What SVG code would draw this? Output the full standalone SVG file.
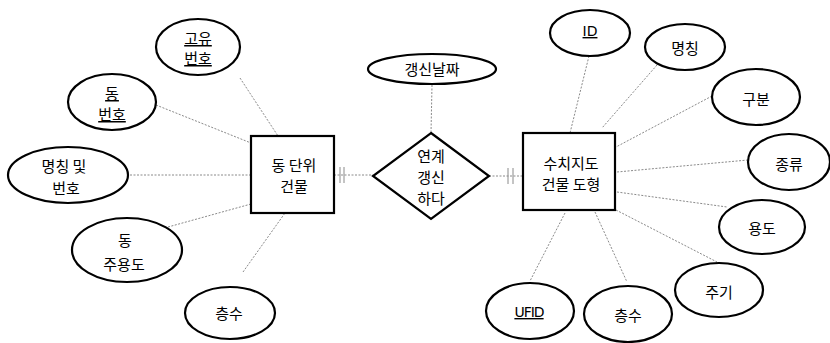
<svg xmlns="http://www.w3.org/2000/svg" width="830" height="343" viewBox="0 0 830 343">
<style>
.sh{fill:#fff;stroke:#000;stroke-width:2.2}
.ln{stroke:#8a8a8a;stroke-width:1;stroke-dasharray:2 1.5;fill:none}
.tk{stroke:#8a8a8a;stroke-width:1;fill:none}
text{font-family:"Noto Sans CJK KR","Noto Sans",sans-serif;font-size:15px;fill:#000;text-anchor:middle}
.e{font-size:15px}
.u{text-decoration:underline}
</style>
<rect width="830" height="343" fill="#fff"/>
<g id="connectors">
<line class="ln" x1="240" y1="78" x2="278" y2="136"/>
<line class="ln" x1="156" y1="105" x2="251" y2="143"/>
<line class="ln" x1="130" y1="175" x2="251" y2="175"/>
<line class="ln" x1="168" y1="227" x2="251" y2="204"/>
<line class="ln" x1="243" y1="272" x2="285" y2="213"/>
<line class="ln" x1="334" y1="175" x2="373" y2="175"/>
<line class="tk" x1="340" y1="167" x2="340" y2="183"/>
<line class="tk" x1="344" y1="167" x2="344" y2="183"/>
<line class="ln" x1="432" y1="85" x2="431" y2="133"/>
<line class="ln" x1="489" y1="176" x2="523" y2="176"/>
<line class="tk" x1="508" y1="168" x2="508" y2="184"/>
<line class="tk" x1="513" y1="168" x2="513" y2="184"/>
<line class="ln" x1="589" y1="56" x2="570" y2="133"/>
<line class="ln" x1="657" y1="65" x2="602" y2="128"/>
<line class="ln" x1="712" y1="96" x2="616" y2="147"/>
<line class="ln" x1="748" y1="160" x2="617" y2="172"/>
<line class="ln" x1="617" y1="192" x2="727" y2="207"/>
<line class="ln" x1="616" y1="210" x2="717" y2="262"/>
<line class="ln" x1="595" y1="212" x2="627" y2="282"/>
<line class="ln" x1="565" y1="213" x2="530" y2="281"/>
</g>
<g id="e1">
<rect class="sh" x="251" y="136" width="83" height="77"/>
<text class="e" x="294" y="171">동 단위</text>
<text class="e" x="294" y="192">건물</text>
</g>
<g id="rel">
<polygon class="sh" points="431,133 489,176 431,219 373,176"/>
<text class="e" x="431" y="162">연계</text>
<text class="e" x="431" y="183">갱신</text>
<text class="e" x="431" y="204">하다</text>
</g>
<g id="e2">
<rect class="sh" x="523" y="133" width="92" height="77"/>
<text class="e" x="571" y="169">수치지도</text>
<text class="e" x="571" y="190">건물 도형</text>
</g>
<g id="a_date">
<ellipse class="sh" cx="432" cy="69" rx="64" ry="15"/>
<text x="432" y="75">갱신날짜</text>
</g>
<g id="a1">
<ellipse class="sh" cx="198" cy="47" rx="42" ry="28"/>
<text class="u" x="198" y="44">고유</text>
<text class="u" x="198" y="64">번호</text>
</g>
<g id="a2">
<ellipse class="sh" cx="112" cy="102" rx="44" ry="28"/>
<text class="u" x="112" y="99">동</text>
<text class="u" x="112" y="120">번호</text>
</g>
<g id="a3">
<ellipse class="sh" cx="68" cy="175" rx="60" ry="28"/>
<text x="64" y="172">명칭 및</text>
<text x="66" y="194">번호</text>
</g>
<g id="a4">
<ellipse class="sh" cx="127" cy="250" rx="55" ry="32"/>
<text x="125" y="246">동</text>
<text x="124" y="270">주용도</text>
</g>
<g id="a5">
<ellipse class="sh" cx="230" cy="313" rx="45" ry="26"/>
<text x="229" y="319">층수</text>
</g>
<g id="b1">
<ellipse class="sh" cx="590" cy="33" rx="40" ry="23"/>
<text class="u" x="590" y="36" style="font-family:'DejaVu Sans',sans-serif;font-size:14px">ID</text>
</g>
<g id="b2">
<ellipse class="sh" cx="685" cy="47" rx="40" ry="23"/>
<text x="685" y="54">명칭</text>
</g>
<g id="b3">
<ellipse class="sh" cx="756" cy="97" rx="44" ry="28"/>
<text x="756" y="105">구분</text>
</g>
<g id="b4">
<ellipse class="sh" cx="789" cy="162" rx="41" ry="28"/>
<text x="789" y="170">종류</text>
</g>
<g id="b5">
<ellipse class="sh" cx="762" cy="227" rx="43" ry="27"/>
<text x="762" y="234">용도</text>
</g>
<g id="b6">
<ellipse class="sh" cx="719" cy="290" rx="44" ry="27"/>
<text x="719" y="298">주기</text>
</g>
<g id="b7">
<ellipse class="sh" cx="628" cy="314" rx="44" ry="28"/>
<text x="628" y="321">층수</text>
</g>
<g id="b8">
<ellipse class="sh" cx="530" cy="311" rx="44" ry="28"/>
<text class="u" x="529" y="317" style="font-family:'DejaVu Sans',sans-serif;font-size:14px;letter-spacing:-1px">UFID</text>
</g>
</svg>
